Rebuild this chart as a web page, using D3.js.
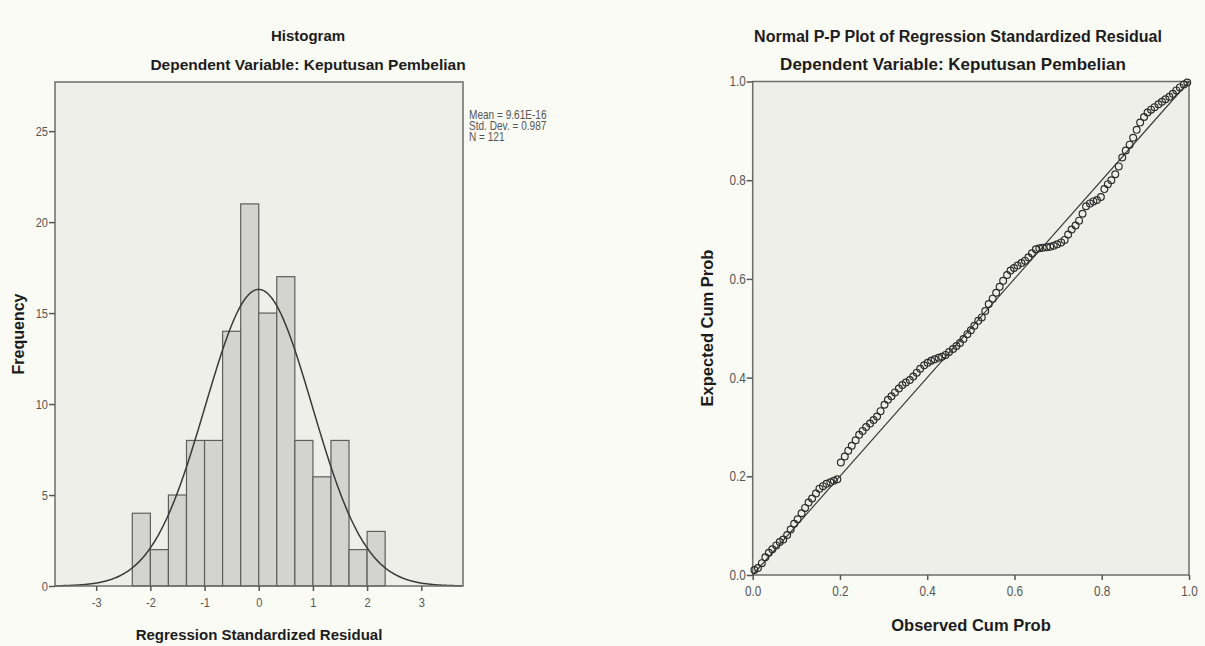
<!DOCTYPE html>
<html><head><meta charset="utf-8">
<script src="https://cdn.jsdelivr.net/npm/d3@7"></script>
<style>
body{margin:0;background:#fbfbf6;}
svg{display:block;}
.title{font-family:"Liberation Sans",Arial,sans-serif;font-weight:bold;fill:#1c1c1c;}
.tick text{font-family:"Liberation Sans",Arial,sans-serif;fill:#555;}
.stat{font-family:"Liberation Sans",Arial,sans-serif;fill:#555;}
</style></head><body>
<svg id="c" width="1205" height="646"></svg>
<script>
// ---------- Histogram data ----------
const binLower = [-2.333,-2,-1.667,-1.333,-1,-0.667,-0.333,0,0.333,0.667,1,1.333,1.667,2];
const frequencies = [4,2,5,8,8,14,21,15,17,8,6,8,2,3];
const binWidth = 1/3;
const histTicksX = [-3,-2,-1,0,1,2,3];
const histTicksY = [0,5,10,15,20,25];
const statLabels = ["Mean = 9.61E-16","Std. Dev. = 0.987","N = 121"];
const statMean = 9.61e-16, statSD = 0.987, statN = 121;

// ---------- P-P plot data ----------
const observedCumProb = [
.004,.012,.021,.029,.037,.045,.054,.062,.070,.079,
.087,.095,.103,.112,.120,.128,.136,.145,.153,.161,
.169,.178,.186,.194,.202,.211,.219,.227,.236,.244,
.252,.260,.269,.277,.285,.293,.302,.310,.318,.326,
.335,.343,.351,.360,.368,.376,.384,.393,.401,.409,
.417,.426,.434,.442,.450,.459,.467,.475,.483,.492,
.500,.508,.517,.525,.533,.541,.550,.558,.566,.574,
.583,.591,.599,.607,.616,.624,.632,.640,.649,.657,
.665,.674,.682,.690,.698,.707,.715,.723,.731,.740,
.748,.756,.764,.773,.781,.789,.798,.806,.814,.822,
.831,.839,.847,.855,.864,.872,.880,.888,.897,.905,
.913,.921,.930,.938,.946,.955,.963,.971,.979,.988,
.996];
const expectedCumProb = [
.010,.014,.024,.036,.045,.052,.060,.067,.072,.081,
.092,.104,.113,.125,.136,.147,.155,.165,.175,.180,
.185,.188,.191,.194,.228,.240,.252,.262,.273,.284,
.292,.300,.307,.314,.321,.332,.345,.355,.362,.370,
.378,.385,.390,.395,.402,.410,.418,.425,.430,.434,
.437,.440,.442,.446,.452,.458,.464,.470,.478,.488,
.496,.505,.515,.522,.535,.549,.560,.572,.584,.596,
.608,.617,.622,.627,.632,.637,.644,.652,.660,.662,
.663,.664,.665,.667,.670,.674,.679,.690,.700,.708,
.718,.732,.747,.753,.757,.760,.766,.782,.792,.800,
.812,.828,.846,.860,.872,.886,.902,.917,.928,.937,
.943,.948,.954,.959,.964,.969,.975,.982,.988,.994,
.998];
const ppTicks = [0,0.2,0.4,0.6,0.8,1.0];

const svg = d3.select("#c");
svg.append("rect").attr("width",1205).attr("height",646).attr("fill","#fbfbf6");

// horizontal condensing for narrow-looking labels
function condense(sel, k){
  sel.each(function(){
    const t = d3.select(this);
    const x = +(t.attr("x")||0);
    t.attr("x", x/k).attr("transform", `scale(${k},1)`);
  });
}

// ================= Histogram =================
const hx = d3.scaleLinear().domain([-3.76,3.77]).range([55,463]);
const hy = d3.scaleLinear().domain([0,27.7]).range([586,82]);
const hg = svg.append("g");

hg.append("rect").attr("x",hx(-3.76)).attr("y",hy(27.7))
  .attr("width",hx(3.77)-hx(-3.76)).attr("height",hy(0)-hy(27.7))
  .attr("fill","#efefea").attr("stroke","none");

hg.selectAll("rect.bar").data(frequencies).join("rect").attr("class","bar")
  .attr("x",(d,i)=>hx(binLower[i]))
  .attr("width",(d,i)=>hx(binLower[i]+binWidth)-hx(binLower[i]))
  .attr("y",d=>hy(d)).attr("height",d=>hy(0)-hy(d))
  .attr("fill","#d3d4cf").attr("stroke","#5e5e5e").attr("stroke-width",1.2);

const curveX = d3.range(-3.76,3.771,0.02);
const normY = x => statN*binWidth*Math.exp(-0.5*Math.pow((x-statMean)/statSD,2))/(statSD*Math.sqrt(2*Math.PI));
hg.append("path").datum(curveX)
  .attr("d",d3.line().x(d=>hx(d)).y(d=>hy(normY(d))))
  .attr("fill","none").attr("stroke","#3a3a3a").attr("stroke-width",1.5);

hg.append("rect").attr("x",hx(-3.76)).attr("y",hy(27.7))
  .attr("width",hx(3.77)-hx(-3.76)).attr("height",hy(0)-hy(27.7))
  .attr("fill","none").attr("stroke","#6c6c6c").attr("stroke-width",1.5);

const hyAxis = hg.append("g").attr("transform",`translate(${hx(-3.76)},0)`)
  .call(d3.axisLeft(hy).tickValues(histTicksY).tickSize(6).tickPadding(1).tickFormat(d=>String(d)));
hyAxis.select(".domain").remove();
hyAxis.selectAll(".tick line").attr("stroke","#555").attr("stroke-width",1.5);
hyAxis.selectAll(".tick text").attr("font-size",13.5).call(condense,0.82);

const hxAxis = hg.append("g").attr("transform",`translate(0,${hy(0)})`)
  .call(d3.axisBottom(hx).tickValues(histTicksX).tickSize(5).tickPadding(6).tickFormat(d=>String(d)));
hxAxis.select(".domain").remove();
hxAxis.selectAll(".tick line").attr("stroke","#555").attr("stroke-width",1.5);
hxAxis.selectAll(".tick text").attr("font-size",13.5).call(condense,0.82);

hg.append("text").attr("class","title").attr("x",308).attr("y",41).attr("text-anchor","middle").attr("font-size",15).text("Histogram");
hg.append("text").attr("class","title").attr("x",308).attr("y",70).attr("text-anchor","middle").attr("font-size",15.5).text("Dependent Variable: Keputusan Pembelian");
hg.append("text").attr("class","title").attr("x",259).attr("y",640).attr("text-anchor","middle").attr("font-size",15).text("Regression Standardized Residual");
hg.append("text").attr("class","title").attr("transform","translate(24,334) rotate(-90)").attr("text-anchor","middle").attr("font-size",16).text("Frequency");
hg.selectAll("text.stat").data(statLabels).join("text").attr("class","stat")
  .attr("x",469).attr("y",(d,i)=>119+i*11).attr("font-size",12).text(d=>d).call(condense,0.84);

// ================= P-P Plot =================
const px = d3.scaleLinear().domain([0,1]).range([752.7,1189]);
const py = d3.scaleLinear().domain([0,1]).range([575,81.5]);
const pg = svg.append("g");

pg.append("rect").attr("x",px(0)).attr("y",py(1)).attr("width",px(1)-px(0)).attr("height",py(0)-py(1))
  .attr("fill","#efefea").attr("stroke","#6c6c6c").attr("stroke-width",1.5);

pg.append("line").attr("x1",px(0)).attr("y1",py(0)).attr("x2",px(1)).attr("y2",py(1))
  .attr("stroke","#3a3a3a").attr("stroke-width",1.2);

pg.selectAll("circle").data(observedCumProb).join("circle")
  .attr("cx",d=>px(d)).attr("cy",(d,i)=>py(expectedCumProb[i])).attr("r",3.4)
  .attr("fill","none").attr("stroke","#2c2c2c").attr("stroke-width",1.2);

const pyAxis = pg.append("g").attr("transform",`translate(${px(0)},0)`)
  .call(d3.axisLeft(py).tickValues(ppTicks).tickSize(6).tickPadding(1).tickFormat(d3.format(".1f")));
pyAxis.select(".domain").remove();
pyAxis.selectAll(".tick line").attr("stroke","#555").attr("stroke-width",1.5);
pyAxis.selectAll(".tick text").attr("font-size",14).call(condense,0.84);

const pxAxis = pg.append("g").attr("transform",`translate(0,${py(0)})`)
  .call(d3.axisBottom(px).tickValues(ppTicks).tickSize(5).tickPadding(6).tickFormat(d3.format(".1f")));
pxAxis.select(".domain").remove();
pxAxis.selectAll(".tick line").attr("stroke","#555").attr("stroke-width",1.5);
pxAxis.selectAll(".tick text").attr("font-size",14).call(condense,0.84);

pg.append("text").attr("class","title").attr("x",958).attr("y",42).attr("text-anchor","middle").attr("font-size",16).text("Normal P-P Plot of Regression Standardized Residual");
pg.append("text").attr("class","title").attr("x",953).attr("y",70).attr("text-anchor","middle").attr("font-size",17).text("Dependent Variable: Keputusan Pembelian");
pg.append("text").attr("class","title").attr("x",971).attr("y",631).attr("text-anchor","middle").attr("font-size",16.5).text("Observed Cum Prob");
pg.append("text").attr("class","title").attr("transform","translate(713,328) rotate(-90)").attr("text-anchor","middle").attr("font-size",16.5).text("Expected Cum Prob");
</script></body></html>
